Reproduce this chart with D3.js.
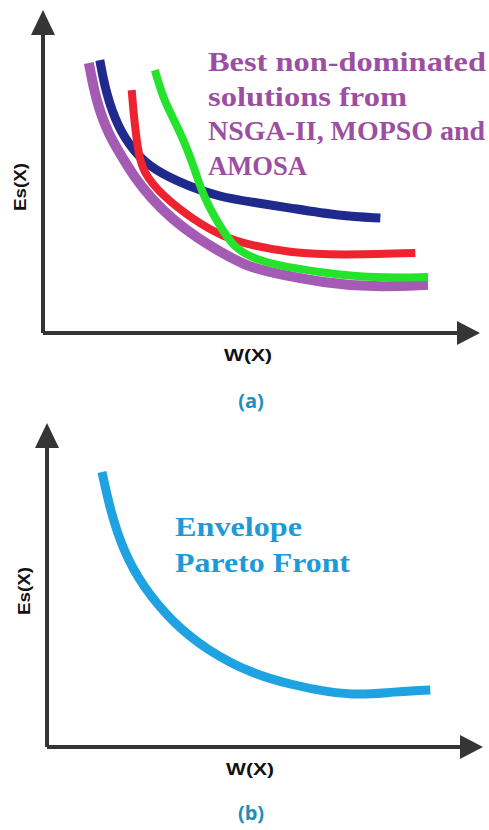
<!DOCTYPE html>
<html>
<head>
<meta charset="utf-8">
<script src="https://cdn.jsdelivr.net/npm/d3@7"></script>
<style>
  body { margin: 0; background: #fff; }
  svg { display: block; }
</style>
</head>
<body>
<div id="chart"></div>
<script>
// panel (a): fronts from the three algorithms, x = W(X), y = Es(X) (arbitrary units 0-100)
const nsgaX   = [10.5, 12.1, 14.8, 18.5, 21.2, 24.7, 29.2, 36.8, 46.8, 52.7, 64.2, 75.6, 88.1];
const nsgaY   = [83.6, 72.1, 61.9, 53.6, 47.7, 41.8, 35.6, 27.9, 20.4, 18.6, 15.5, 14.2, 14.9];
const mopsoX  = [13.0, 14.4, 17.1, 20.8, 25.3, 33.1, 40.6, 47.5, 56.6, 68.0, 77.2];
const mopsoY  = [84.5, 74.3, 63.8, 56.1, 50.5, 45.5, 42.1, 40.6, 38.7, 36.2, 35.6];
const amosaX  = [20.3, 20.8, 21.7, 22.8, 27.6, 34.5, 41.3, 47.5, 56.6, 68.0, 85.2];
const amosaY  = [75.2, 66.9, 56.7, 49.8, 42.1, 35.0, 29.7, 27.2, 24.8, 24.1, 24.8];
const greenX  = [25.6, 27.6, 30.8, 33.1, 34.9, 36.8, 40.0, 43.6, 47.5, 52.7, 64.2, 75.6, 88.1];
const greenY  = [81.4, 72.1, 63.8, 56.7, 49.8, 42.1, 34.1, 26.6, 23.5, 21.1, 18.6, 17.0, 17.3];
// panel (b): envelope pareto front
const envX    = [12.6, 14.5, 17.4, 22.0, 28.9, 36.7, 46.6, 56.4, 64.2, 71.8, 79.4, 87.9];
const envY    = [84.9, 73.1, 60.8, 49.4, 38.3, 29.9, 22.8, 19.1, 17.0, 16.0, 17.0, 17.6];

const titleA = ["Best non-dominated", "solutions from", "NSGA-II, MOPSO and", "AMOSA"];
const titleB = ["Envelope", "Pareto Front"];

const W = 489, H = 830;
const svg = d3.select("#chart").append("svg")
    .attr("width", W).attr("height", H);

const axisColor = "#353535";
const capColor = "#1b8dbf";

function zip(xs, ys) { return xs.map((x, i) => [x, ys[i]]); }

function drawPanel(cfg) {
    const x = d3.scaleLinear().domain([0, 100]).range([cfg.x0, cfg.x1]);
    const y = d3.scaleLinear().domain([0, 100]).range([cfg.y0, cfg.y1]);
    const g = svg.append("g");

    const line = d3.line()
        .x(d => x(d[0]))
        .y(d => y(d[1]))
        .curve(d3.curveBasis);

    cfg.series.forEach(s => {
        g.append("path")
            .attr("d", line(zip(s.xs, s.ys)))
            .attr("fill", "none")
            .attr("stroke", s.color)
            .attr("stroke-width", s.width)
            .attr("stroke-linecap", "butt")
            .attr("stroke-linejoin", "round");
    });

    // axes with arrow heads
    g.append("path")
        .attr("d", `M${x(0)},${y(0)}V${y(100) + 20}M${x(0)},${y(0)}H${x(100) - 20}`)
        .attr("stroke", axisColor).attr("stroke-width", 4).attr("fill", "none");
    g.append("path")
        .attr("d", `M${x(0)},${y(100)}L${x(0) - 12},${y(100) + 25}L${x(0) + 12},${y(100) + 25}Z`)
        .attr("fill", axisColor);
    g.append("path")
        .attr("d", `M${x(100)},${y(0)}L${x(100) - 23},${y(0) - 12}L${x(100) - 23},${y(0) + 12}Z`)
        .attr("fill", axisColor);

    g.append("text")
        .attr("x", cfg.wX).attr("y", cfg.y0 + 28)
        .attr("text-anchor", "middle")
        .attr("textLength", 48).attr("lengthAdjust", "spacingAndGlyphs")
        .style("font", "bold 17px 'Liberation Sans', Arial, sans-serif")
        .attr("fill", "#111")
        .text("W(X)");
    g.append("text")
        .attr("transform", `translate(${cfg.esX},${cfg.esY}) rotate(-90)`)
        .attr("text-anchor", "middle").attr("dy", "0.35em")
        .attr("textLength", 48).attr("lengthAdjust", "spacingAndGlyphs")
        .style("font", "bold 17px 'Liberation Sans', Arial, sans-serif")
        .attr("fill", "#111")
        .text("Es(X)");
    g.append("text")
        .attr("x", 251).attr("y", cfg.capY)
        .attr("text-anchor", "middle")
        .style("font", "bold 20px 'Open Sans', sans-serif")
        .attr("fill", capColor)
        .text(cfg.caption);

    const t = g.append("g");
    cfg.title.forEach((s, i) => {
        const el = t.append("text")
            .attr("x", cfg.tx).attr("y", cfg.ty + i * cfg.tdy)
            .style("font", `bold ${cfg.tsize}px 'Liberation Serif', serif`)
            .attr("fill", cfg.tcolor)
            .text(s);
        if (cfg.twidth[i]) el.attr("textLength", cfg.twidth[i]).attr("lengthAdjust", "spacingAndGlyphs");
    });
}

drawPanel({
    x0: 43, x1: 480, y0: 333, y1: 10,
    wX: 248, esX: 20, esY: 187, capY: 408, caption: "(a)",
    series: [
        { xs: nsgaX,  ys: nsgaY,  color: "#a35bb3", width: 10 },
        { xs: mopsoX, ys: mopsoY, color: "#1f2a8c", width: 9 },
        { xs: amosaX, ys: amosaY, color: "#ee2330", width: 8 },
        { xs: greenX, ys: greenY, color: "#25e22c", width: 8 }
    ],
    title: titleA, tx: 208, ty: 71, tdy: 34.7, tsize: 28, tcolor: "#9c4fa2",
    twidth: [278, 199, 277, 99]
});

drawPanel({
    x0: 47, x1: 483, y0: 747, y1: 423,
    wX: 250, esX: 24, esY: 591, capY: 820, caption: "(b)",
    series: [
        { xs: envX, ys: envY, color: "#1ea2e2", width: 9 }
    ],
    title: titleB, tx: 175, ty: 536, tdy: 36, tsize: 27, tcolor: "#1f9ad8",
    twidth: [127, 175]
});
</script>
</body>
</html>
